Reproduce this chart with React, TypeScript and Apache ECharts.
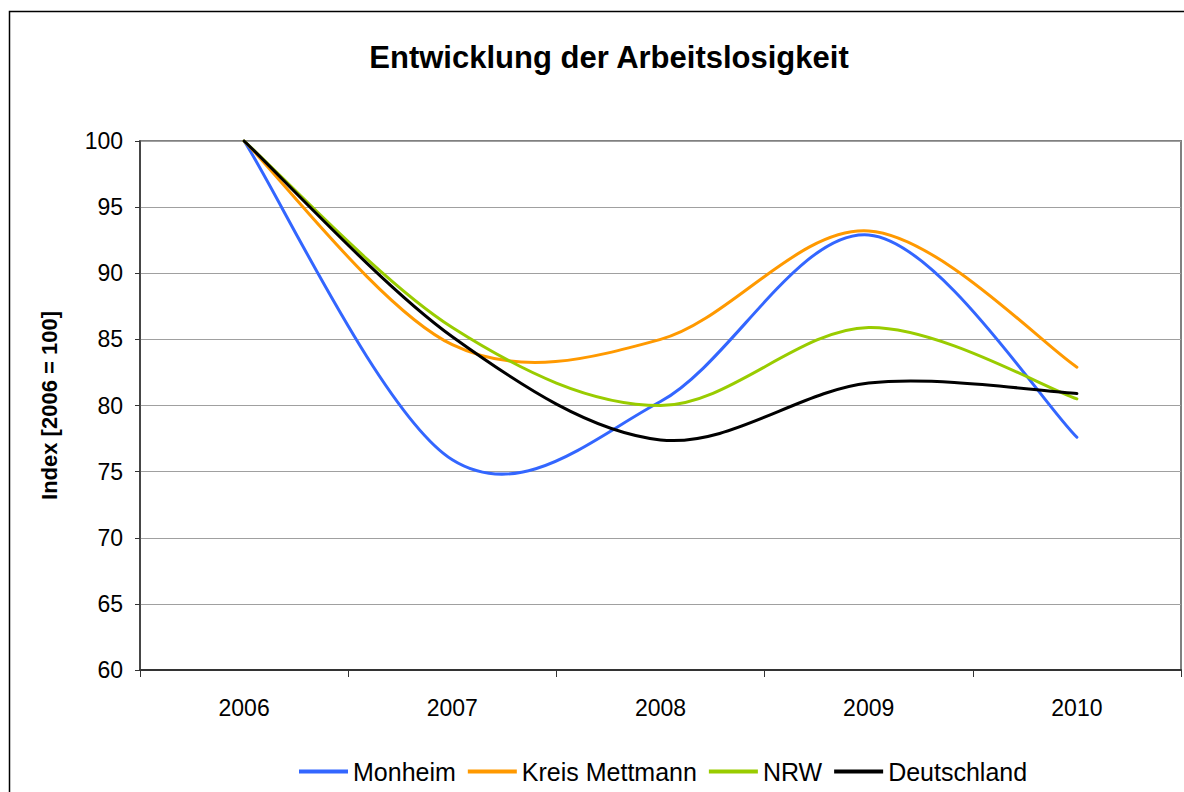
import React, { useEffect, useRef } from "react";
import * as echarts from "echarts";

const years = ["2006", "2007", "2008", "2009", "2010"];
const monheim = [100, 75.9, 80.3, 92.9, 77.6];
const kreisMettmann = [100, 84.6, 85.0, 93.2, 82.9];
const nrw = [100, 85.9, 80.0, 85.9, 80.5];
const deutschland = [100, 85.2, 77.4, 81.7, 80.9];

const seriesDefs = [
  { name: "Monheim", data: monheim, color: "#3366FF" },
  { name: "Kreis Mettmann", data: kreisMettmann, color: "#FF9900" },
  { name: "NRW", data: nrw, color: "#99CC00" },
  { name: "Deutschland", data: deutschland, color: "#000000" },
];

const FONT = "Liberation Sans, Arial, sans-serif";

// Excel-like smoothed line (Catmull-Rom -> cubic Bezier), positioned through the axes
function smoothPath(pts: number[][]): string {
  const n = pts.length;
  let d = `M${pts[0][0]},${pts[0][1]}`;
  for (let i = 0; i < n - 1; i++) {
    const p0 = pts[Math.max(0, i - 1)];
    const p1 = pts[i];
    const p2 = pts[i + 1];
    const p3 = pts[Math.min(n - 1, i + 2)];
    const c1x = p1[0] + (p2[0] - p0[0]) / 6;
    const c1y = p1[1] + (p2[1] - p0[1]) / 6;
    const c2x = p2[0] - (p3[0] - p1[0]) / 6;
    const c2y = p2[1] - (p3[1] - p1[1]) / 6;
    d += ` C${c1x},${c1y} ${c2x},${c2y} ${p2[0]},${p2[1]}`;
  }
  return d;
}

export default function App() {
  const ref = useRef<HTMLDivElement>(null);
  useEffect(() => {
    if (!ref.current) return;
    const chart = echarts.init(ref.current, null, { renderer: "svg" });
    chart.setOption({
      animation: false,
      backgroundColor: "#ffffff",
      color: seriesDefs.map((s) => s.color),
      title: {
        text: "Entwicklung der Arbeitslosigkeit",
        left: 604,
        textAlign: "center",
        top: 37,
        textStyle: { fontFamily: FONT, fontSize: 31, fontWeight: "bold", color: "#000" },
      },
      graphic: [
        {
          type: "rect",
          shape: { x: 9.5, y: 11.5, width: 1200, height: 800 },
          style: { fill: "none", stroke: "#000", lineWidth: 1.5 },
          silent: true,
        },
      ],
      legend: {
        top: 754,
        left: 294,
        itemWidth: 49,
        itemHeight: 4,
        itemGap: 12,
        icon: "rect",
        textStyle: { fontFamily: FONT, fontSize: 25, color: "#000" },
        data: seriesDefs.map((s) => s.name),
      },
      grid: {
        left: 140,
        top: 141,
        right: 3,
        bottom: 122,
        show: true,
        borderColor: "#808080",
        borderWidth: 2,
        backgroundColor: "transparent",
      },
      xAxis: {
        type: "category",
        data: years,
        boundaryGap: true,
        axisLine: { lineStyle: { color: "#333", width: 2 } },
        axisTick: { show: true, length: 7, lineStyle: { color: "#333" } },
        axisLabel: { fontFamily: FONT, fontSize: 23, color: "#000", margin: 26 },
        splitLine: { show: false },
      },
      yAxis: {
        type: "value",
        min: 60,
        max: 100,
        interval: 5,
        name: "Index [2006 = 100]",
        nameLocation: "middle",
        nameGap: 80,
        nameTextStyle: { fontFamily: FONT, fontSize: 22, fontWeight: "bold", color: "#000" },
        axisLine: { show: true, lineStyle: { color: "#333", width: 1.5 } },
        axisTick: { show: true, length: 5, lineStyle: { color: "#333" } },
        axisLabel: { fontFamily: FONT, fontSize: 23, color: "#000", margin: 17 },
        splitLine: { show: true, lineStyle: { color: "#a0a0a0", width: 1 } },
      },
      series: seriesDefs.map((s) => ({
        name: s.name,
        type: "custom",
        coordinateSystem: "cartesian2d",
        itemStyle: { color: s.color },
        encode: { x: 0, y: 1 },
        data: s.data.map((v, i) => [i, v]),
        renderItem: (params: any, api: any) => {
          if (params.dataIndex !== 0) return null;
          const pts = s.data.map((v, i) => api.coord([i, v]));
          return {
            type: "path",
            shape: { pathData: smoothPath(pts) },
            style: { fill: "none", stroke: s.color, lineWidth: 3, lineJoin: "round", lineCap: "round" },
          };
        },
      })),
    });
    return () => chart.dispose();
  }, []);
  return (
    <div
      ref={ref}
      style={{ position: "absolute", left: 0, top: 0, width: 1184, height: 792 }}
    />
  );
}
